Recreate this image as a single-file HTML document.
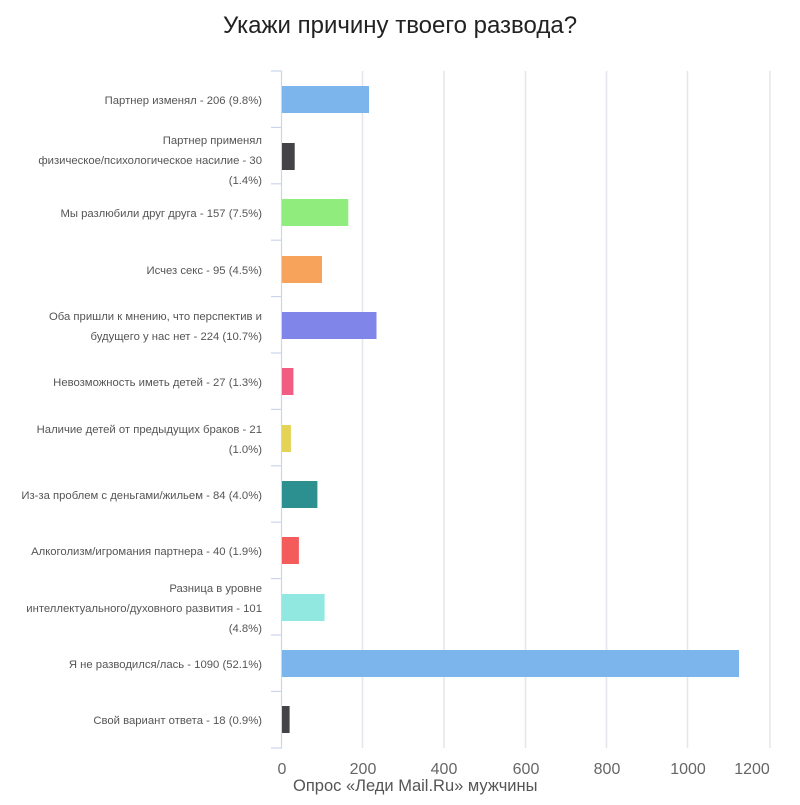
<!DOCTYPE html>
<html><head><meta charset="utf-8"><style>
body{margin:0;background:#fff;}
svg text{font-family:"Liberation Sans","DejaVu Sans",sans-serif;}
</style></head><body>
<svg width="800" height="800" xmlns="http://www.w3.org/2000/svg">
<rect width="800" height="800" fill="#fff"/>
<text x="400" y="33" text-anchor="middle" font-size="24" fill="#222">Укажи причину твоего развода?</text>
<g stroke="#e3e6ea" stroke-width="1.5">
<line x1="362.5" y1="71" x2="362.5" y2="748"/>
<line x1="444" y1="71" x2="444" y2="748"/>
<line x1="525.5" y1="71" x2="525.5" y2="748"/>
<line x1="606.5" y1="71" x2="606.5" y2="748"/>
<line x1="687.5" y1="71" x2="687.5" y2="748"/>
<line x1="770" y1="71" x2="770" y2="748"/>
</g>
<g stroke="#ccd6eb" stroke-width="1.2">
<line x1="281.5" y1="71" x2="281.5" y2="748"/>
<line x1="271" y1="71" x2="282" y2="71"/>
<line x1="271" y1="127.4" x2="282" y2="127.4"/>
<line x1="271" y1="183.8" x2="282" y2="183.8"/>
<line x1="271" y1="240.2" x2="282" y2="240.2"/>
<line x1="271" y1="296.6" x2="282" y2="296.6"/>
<line x1="271" y1="353" x2="282" y2="353"/>
<line x1="271" y1="409.4" x2="282" y2="409.4"/>
<line x1="271" y1="465.8" x2="282" y2="465.8"/>
<line x1="271" y1="522.2" x2="282" y2="522.2"/>
<line x1="271" y1="578.6" x2="282" y2="578.6"/>
<line x1="271" y1="635" x2="282" y2="635"/>
<line x1="271" y1="691.4" x2="282" y2="691.4"/>
<line x1="271" y1="748" x2="282" y2="748"/>
</g>
<g>
<rect x="282" y="86" width="87" height="27" fill="#7cb5ec"/>
<rect x="282" y="143" width="12.7" height="27" fill="#434348"/>
<rect x="282" y="199" width="66.3" height="27" fill="#90ed7d"/>
<rect x="282" y="256" width="40" height="27" fill="#f7a35c"/>
<rect x="282" y="312" width="94.5" height="27" fill="#8085e9"/>
<rect x="282" y="368" width="11.4" height="27" fill="#f15c80"/>
<rect x="282" y="425" width="8.9" height="27" fill="#e4d354"/>
<rect x="282" y="481" width="35.4" height="27" fill="#2b908f"/>
<rect x="282" y="537" width="16.9" height="27" fill="#f45b5b"/>
<rect x="282" y="594" width="42.6" height="27" fill="#91e8e1"/>
<rect x="282" y="650" width="457" height="27" fill="#7cb5ec"/>
<rect x="282" y="706" width="7.6" height="27" fill="#434348"/>
</g>
<g font-size="11.3" fill="#555" text-anchor="end">
<text x="262" y="104">Партнер изменял - 206 (9.8%)</text>
<text x="262" y="144">Партнер применял</text>
<text x="262" y="164">физическое/психологическое насилие - 30</text>
<text x="262" y="184">(1.4%)</text>
<text x="262" y="217">Мы разлюбили друг друга - 157 (7.5%)</text>
<text x="262" y="274">Исчез секс - 95 (4.5%)</text>
<text x="262" y="320">Оба пришли к мнению, что перспектив и</text>
<text x="262" y="340">будущего у нас нет - 224 (10.7%)</text>
<text x="262" y="386">Невозможность иметь детей - 27 (1.3%)</text>
<text x="262" y="433">Наличие детей от предыдущих браков - 21</text>
<text x="262" y="453">(1.0%)</text>
<text x="262" y="499">Из-за проблем с деньгами/жильем - 84 (4.0%)</text>
<text x="262" y="555">Алкоголизм/игромания партнера - 40 (1.9%)</text>
<text x="262" y="592">Разница в уровне</text>
<text x="262" y="612">интеллектуального/духовного развития - 101</text>
<text x="262" y="632">(4.8%)</text>
<text x="262" y="668">Я не разводился/лась - 1090 (52.1%)</text>
<text x="262" y="724">Свой вариант ответа - 18 (0.9%)</text>
</g>
<g font-size="16" fill="#666" text-anchor="middle">
<text x="282" y="774">0</text>
<text x="363" y="774">200</text>
<text x="444" y="774">400</text>
<text x="526" y="774">600</text>
<text x="607" y="774">800</text>
<text x="688" y="774">1000</text>
<text x="752" y="774">1200</text>
</g>
<text x="293" y="791" font-size="16.5" fill="#555">Опрос «Леди Mail.Ru» мужчины</text>
</svg>
</body></html>
